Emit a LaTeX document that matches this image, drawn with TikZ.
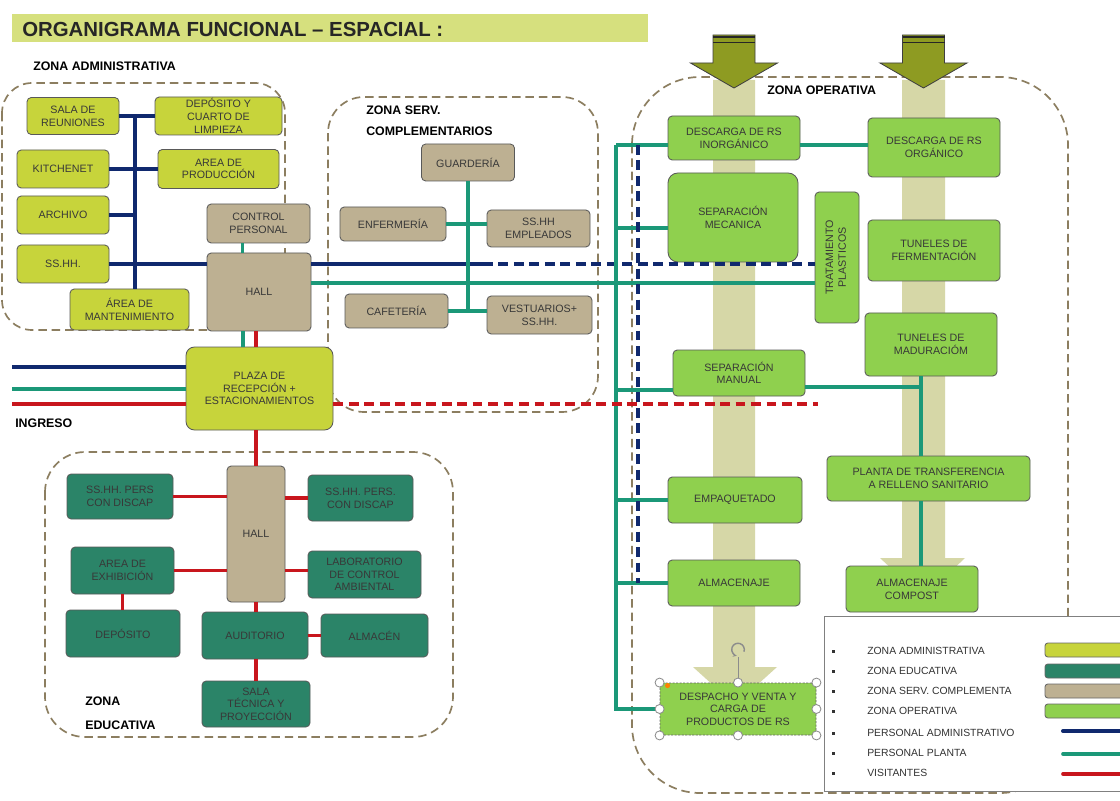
\documentclass[tikz,border=0pt]{standalone}
\usepackage{fontspec}
\setmainfont{Liberation Sans}
\usetikzlibrary{positioning,arrows.meta}
\definecolor{admclr}{HTML}{C7D43B}
\definecolor{titleclr}{HTML}{D6E07E}
\definecolor{srvclr}{HTML}{BDB092}
\definecolor{educlr}{HTML}{2B8468}
\definecolor{opclr}{HTML}{8FD04E}
\definecolor{blueclr}{HTML}{10296E}
\definecolor{tealclr}{HTML}{1B9878}
\definecolor{redclr}{HTML}{C8161D}
\definecolor{zoneclr}{HTML}{8C7E60}
\definecolor{bandclr}{HTML}{D6D7A7}
\definecolor{oliveclr}{HTML}{8E9B22}
\definecolor{txtclr}{HTML}{383838}
\newcommand{\pxl}{0.025cm}

\begin{document}
\begin{tikzpicture}[x=\pxl, y=-\pxl,
    box/.style={rectangle, rounded corners=3pt, draw=black!65, line width=0.6pt,
                align=center, inner sep=1pt, text=txtclr,
                font=\fontsize{7.6}{9}\selectfont},
    sz/.style 2 args={minimum width=#1*\pxl, minimum height=#2*\pxl},
    adm/.style={box, fill=admclr},
    srv/.style={box, fill=srvclr},
    edu/.style={box, fill=educlr},
    op/.style={box, fill=opclr},
    zone/.style={draw=zoneclr, line width=1.2pt, dash pattern=on 6pt off 3.5pt},
    lbl/.style={anchor=west, inner sep=0pt, font=\fontsize{8.8}{10}\selectfont\bfseries},
    legtxt/.style={anchor=west, inner sep=0pt, font=\fontsize{7.4}{8}\selectfont, text=black!80},
    blueln/.style={draw=blueclr, line width=2.8pt},
    tealln/.style={draw=tealclr, line width=2.6pt},
    redln/.style={draw=redclr, line width=2.6pt},
    dashln/.style={dash pattern=on 7pt off 4pt}
  ]
  \fill[white] (0,0) rectangle (1120,801);
  \useasboundingbox (0,0) rectangle (1120,801);

  % titulo
  \fill[titleclr] (12,14) rectangle (648,42);
  \node[anchor=west, inner sep=0pt, font=\fontsize{14.5}{16}\selectfont\bfseries, text=black!85]
    (title) at (22,29) {ORGANIGRAMA FUNCIONAL – ESPACIAL :};

  % flujos de residuos
  \fill[bandclr] (713,80) -- (755,80) -- (755,667) -- (777,667) -- (735,705)
    -- (693,667) -- (713,667) -- cycle;
  \fill[bandclr] (902,80) -- (945,80) -- (945,558) -- (965,558) -- (923,598)
    -- (880,558) -- (902,558) -- cycle;

  % zonas
  \draw[zone, rounded corners=0.75cm] (2,83) rectangle (285,330);
  \draw[zone, rounded corners=0.9cm] (328,97) rectangle (598,412);
  \draw[zone, rounded corners=1.7cm] (632,77) rectangle (1068,793);
  \draw[zone, rounded corners=1cm] (45,452) rectangle (453,737);

  \foreach \cx in {734,923.5} {
    \filldraw[fill=oliveclr, draw=black!75, line width=0.6pt] (\cx-21,35) -- (\cx+21,35)
      -- (\cx+21,63) -- (\cx+43.5,63) -- (\cx,88) -- (\cx-43.5,63) -- (\cx-21,63) -- cycle;
    \draw[black!85, line width=1.3pt] (\cx-21,37) -- (\cx+21,37) (\cx-21,42.5) -- (\cx+21,42.5);
  }

  \node[lbl] (lblAdm) at (33,66) {ZONA ADMINISTRATIVA};
  \node[lbl] (lblSrv) at (366,110) {ZONA SERV.};
  \node[lbl] (lblSrv2) at (366,131) {COMPLEMENTARIOS};
  \node[lbl] (lblOp) at (767,90) {ZONA OPERATIVA};
  \node[lbl] (lblEdu) at (85,701) {ZONA};
  \node[lbl] (lblEdu2) at (85,725) {EDUCATIVA};
  \node[lbl] (ingreso) at (15,423) {INGRESO};

  % zona administrativa
  \node[adm, sz={92}{37}] (sala) at (73,116) {SALA DE\\REUNIONES};
  \node[adm, sz={127}{38}] (depo) at (218.5,116) {DEPÓSITO Y\\CUARTO DE\\LIMPIEZA};
  \node[adm, sz={92}{38}] (kitch) at (63,169) {KITCHENET};
  \node[adm, sz={121}{39}] (prod) at (218.5,169) {AREA DE\\PRODUCCIÓN};
  \node[adm, sz={92}{38}] (archivo) at (63,215) {ARCHIVO};
  \node[adm, sz={92}{38}] (sshh) at (63,264) {SS.HH.};
  \node[adm, sz={119}{41}] (mant) at (129.5,309.5) {ÁREA DE\\MANTENIMIENTO};
  \node[srv, sz={103}{39}] (control) at (258.5,223.5) {CONTROL\\PERSONAL};
  \node[srv, sz={104}{78}] (hall) at (259,292) {HALL};
  \node[adm, sz={147}{83}, rounded corners=6pt] (plaza) at (259.5,388.5)
    {PLAZA DE\\RECEPCIÓN +\\ESTACIONAMIENTOS};

  % zona serv. complementarios
  \node[srv, sz={93}{37}] (guard) at (468,162.5) {GUARDERÍA};
  \node[srv, sz={106}{34}] (enf) at (393,224) {ENFERMERÍA};
  \node[srv, sz={103}{37}] (ssemp) at (538.5,228.5) {SS.HH\\EMPLEADOS};
  \node[srv, sz={103}{34}] (caf) at (396.5,311) {CAFETERÍA};
  \node[srv, sz={105}{38}] (vest) at (539.5,315) {VESTUARIOS+\\SS.HH.};

  % zona operativa
  \node[op, sz={132}{44}] (dinorg) at (734,138) {DESCARGA DE RS\\INORGÁNICO};
  \node[op, sz={132}{59}] (dorg) at (934,147.5) {DESCARGA DE RS\\ORGÁNICO};
  \node[op, sz={130}{89}, rounded corners=7pt] (sepmec) at (733,217.5) {SEPARACIÓN\\MECANICA};
  \node[op, sz={44}{131}] (trat) at (837,257.5)
    {\rotatebox{90}{\begin{tabular}{@{}c@{}}TRATAMIENTO\\PLASTICOS\end{tabular}}};
  \node[op, sz={132}{61}] (tferm) at (934,250.5) {TUNELES DE\\FERMENTACIÓN};
  \node[op, sz={132}{63}] (tmad) at (931,344.5) {TUNELES DE\\MADURACIÓM};
  \node[op, sz={132}{46}] (sepman) at (739,373) {SEPARACIÓN\\MANUAL};
  \node[op, sz={203}{45}] (planta) at (928.5,478.5) {PLANTA DE TRANSFERENCIA\\A RELLENO SANITARIO};
  \node[op, sz={134}{46}] (empaq) at (735,500) {EMPAQUETADO};
  \node[op, sz={132}{46}] (almac) at (734,583) {ALMACENAJE};
  \node[op, sz={132}{46}] (acomp) at (912,589) {ALMACENAJE\\COMPOST};
  \node[op, sz={156}{52}, draw=black!60, dash pattern=on 1.5pt off 1pt] (desp) at (738,709)
    {DESPACHO Y VENTA Y\\CARGA DE\\PRODUCTOS DE RS};

  % zona educativa
  \node[edu, sz={106}{45}] (esh1) at (120,496.5) {SS.HH. PERS\\CON DISCAP};
  \node[srv, sz={58}{136}] (ehall) at (256,534) {HALL};
  \node[edu, sz={105}{46}] (esh2) at (360.5,498) {SS.HH. PERS.\\CON DISCAP};
  \node[edu, sz={103}{47}] (exhib) at (122.5,570.5) {AREA DE\\EXHIBICIÓN};
  \node[edu, sz={113}{47}] (lab) at (364.5,574.5) {LABORATORIO\\DE CONTROL\\AMBIENTAL};
  \node[edu, sz={114}{47}] (edep) at (123,633.5) {DEPÓSITO};
  \node[edu, sz={106}{47}] (audit) at (255,635.5) {AUDITORIO};
  \node[edu, sz={107}{43}] (almacen) at (374.5,635.5) {ALMACÉN};
  \node[edu, sz={108}{46}] (sala2) at (256,704) {SALA\\TÉCNICA Y\\PROYECCIÓN};

  % personal administrativo
  \coordinate (atr) at (135,116);
  \coordinate (bsplit) at (483,264);
  \draw[blueln] (atr) -- (atr |- mant.north);
  \draw[blueln] (sala.east) -- (depo.west);
  \draw[blueln] (kitch.east) -- (prod.west);
  \draw[blueln] (archivo.east) -- (archivo.east -| atr);
  \draw[blueln] (sshh.east) -- (sshh.east -| hall.west);
  \draw[blueln] (hall.east |- sshh.east) -- (bsplit);
  \draw[blueln, dashln] (bsplit) -- (bsplit -| trat.west);

  % personal planta
  \coordinate (tl) at (400,283);
  \draw[tealln] (hall.east |- tl) -- (tl -| trat.west);
  \draw[tealln] ([xshift=-16*\pxl]control.south) -- ([xshift=-16*\pxl]control.south |- hall.north);
  \draw[tealln] ([xshift=-16*\pxl]hall.south) -- ([xshift=-16*\pxl]hall.south |- plaza.north);
  \draw[tealln] (guard.south) -- (guard.south |- caf.east);
  \draw[tealln] (enf.east) -- (enf.east -| ssemp.west);
  \draw[tealln] (caf.east) -- (caf.east -| vest.west);

  \coordinate (ot) at (616,145);
  \coordinate (om) at (616,228);
  \coordinate (os) at (616,390);
  \coordinate (or) at (921,387);
  \coordinate (bv) at (638,145);
  \draw[tealln] (ot) -- (ot |- desp.west) -- (desp.west);
  \draw[tealln] (ot) -- (ot -| dinorg.west);
  \draw[tealln] (ot -| dinorg.east) -- (ot -| dorg.west);
  \draw[tealln] (om) -- (om -| sepmec.west);
  \draw[tealln] (os) -- (os -| sepman.west);
  \draw[tealln] (ot |- empaq.west) -- (empaq.west);
  \draw[tealln] (ot |- almac.west) -- (almac.west);
  \draw[tealln] (or -| sepman.east) -- (or);
  \draw[tealln] (or |- tmad.south) -- (or |- planta.north);
  \draw[tealln] (or |- planta.south) -- (or |- acomp.north);
  \draw[blueln, dashln] (bv) -- (bv |- almac.west);

  % ingreso y visitantes
  \coordinate (inb) at (12,367);
  \coordinate (int) at (12,389);
  \coordinate (inr) at (12,404);
  \coordinate (rend) at (818,404);
  \draw[blueln] (inb) -- (inb -| plaza.west);
  \draw[tealln] (int) -- (int -| plaza.west);
  \draw[redln] (inr) -- (inr -| plaza.west);
  \draw[redln, dashln] (plaza.east |- rend) -- (rend);
  \draw[redln] (hall.south -| ehall.north) -- (plaza.north -| ehall.north);
  \draw[redln] (plaza.south -| ehall.north) -- (ehall.north);
  \draw[redln] (esh1.east) -- (esh1.east -| ehall.west);
  \draw[redln] (ehall.east |- esh2.west) -- (esh2.west);
  \draw[redln] (exhib.east) -- (exhib.east -| ehall.west);
  \draw[redln] (ehall.east |- exhib.east) -- (exhib.east -| lab.west);
  \draw[redln] (exhib.south) -- (exhib.south |- edep.north);
  \draw[redln] (ehall.south) -- (ehall.south |- audit.north);
  \draw[redln] (audit.east) -- (almacen.west);
  \draw[redln] (audit.south -| sala2.north) -- (sala2.north);

  % seleccion
  \draw[black!45, line width=0.6pt] (desp.north) -- ++(0,-26);
  \draw[black!45, line width=1pt, -{Stealth[length=3pt]}] ([yshift=33*\pxl]desp.north) ++(-20:4.5pt)
    arc[start angle=-20, end angle=260, radius=4.5pt];
  \foreach \p in {north west,north,north east,west,east,south west,south,south east}
    \filldraw[fill=white, draw=black!45, line width=0.6pt] (desp.\p) circle (3.2pt);
  \fill[orange] ([shift={(8,3)}]desp.north west) circle (1.8pt);

  % leyenda
  \node[draw=black!50, fill=white, line width=0.7pt, anchor=north west, inner sep=0pt,
        sz={320}{175}] (legend) at (824,616) {};
  \foreach \y/\txt [count=\i] in {651/ZONA ADMINISTRATIVA, 671/ZONA EDUCATIVA,
      691/ZONA SERV. COMPLEMENTA, 711/ZONA OPERATIVA, 733/PERSONAL ADMINISTRATIVO,
      753/PERSONAL PLANTA, 773/VISITANTES} {
    \node[legtxt] (leg\i) at (867,\y) {\txt};
    \fill[black!80] (831.5,\y-1.5) rectangle (834.5,\y+1.5);
  }
  \foreach \y/\c in {650/admclr, 671/educlr, 691/srvclr, 711/opclr}
    \filldraw[fill=\c, draw=black!60, line width=0.6pt, rounded corners=2pt]
      (1045,\y-7) rectangle (1135,\y+7);
  \draw[blueln, line cap=round] (1063,731) -- (1135,731);
  \draw[tealln, line cap=round] (1063,754) -- (1135,754);
  \draw[redln, line cap=round] (1063,774) -- (1135,774);
\end{tikzpicture}
\end{document}
